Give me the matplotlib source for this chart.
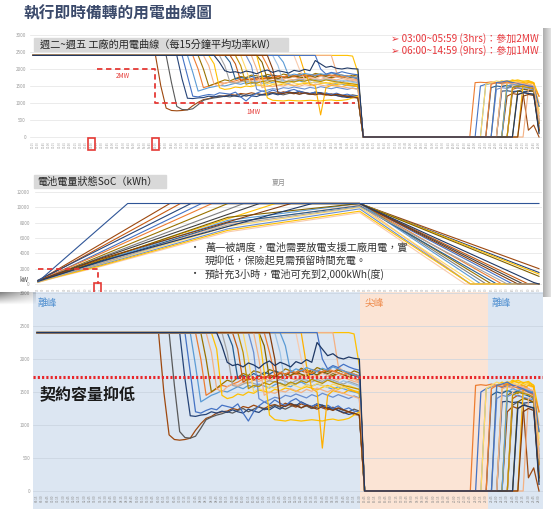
import numpy as np
import matplotlib
matplotlib.use('Agg')
import matplotlib.pyplot as plt
import matplotlib.transforms as mtransforms
from matplotlib.patches import Rectangle

plt.rcParams['font.family'] = ['Noto Sans CJK TC', 'DejaVu Sans']

# ---- data (15-min slots, 96 per day) ----
time_labels = ['%02d:%02d' % divmod(15 * (i + 1), 60) for i in range(96)]
full_load = 2400

load_colors = ['#FFC000', '#9E480E', '#595959', '#264478', '#4472C4', '#5B9BD5',
               '#ED7D31', '#997300', '#F4B183', '#FFC000', '#A5A5A5', '#255E91',
               '#C55A11', '#FFD966', '#698ED0', '#7F6000', '#FFC000', '#9DC3E6',
               '#F8CBAD', '#FFB000', '#F4B183', '#ED7D31', '#5B9BD5', '#BF9000',
               '#4472C4', '#F4B183', '#843C0C', '#1F3864']
# slot where each factory curve leaves full load
load_drop = [60, 24, 26, 28, 29, 30, 31, 32, 33, 34, 36, 37, 38, 40, 41, 43, 43, 46, 50, 51, 57,
             44, 47, 39, 54, 42, 45, 35]
# kW after the drop, until the peak cut-off
load_day = [
    [2380, 1900],
    [1500, 850, 780, 770, 780, 800, 920, 1020, 1100, 1130, 1180, 1200, 1210, 1250, 1230, 1280,
     1260, 1300, 1270, 1250, 1290, 1310, 1280, 1330, 1300, 1270, 1320, 1290, 1250, 1300, 1260,
     1230, 1270, 1220, 1180, 1200, 1160, 1150],
    [1600, 900, 810, 800, 830, 950, 1080, 1120, 1150, 1170, 1200, 1180, 1220, 1250, 1200, 1240,
     1280, 1230, 1260, 1300, 1270, 1240, 1280, 1310, 1260, 1290, 1250, 1270, 1300, 1260, 1230,
     1250, 1220, 1200, 1240, 1210],
    [1700, 1140, 1130, 1150, 1160, 1200, 1180, 1210, 1190, 1230, 1200, 1180, 1240, 1210, 1190,
     1250, 1230, 1280, 1240, 1300, 1330, 1290, 1350, 1310, 1280, 1320, 1300, 1270, 1250, 1220,
     1190, 1160, 1180, 1150],
    [1800, 1200, 1180, 1220, 1250, 1230, 1300, 1280, 1260, 1320, 1180, 1060, 1200, 1290, 1350,
     1310, 1380, 1330, 1290, 1360, 1400, 1340, 1300, 1280, 1320, 1260, 1300, 1250, 1290, 1230,
     1260, 1210, 1200],
    [1900, 1350, 1400, 1450, 1480, 1520, 1500, 1540, 1580, 1550, 1600, 1570, 1620, 1590, 1560,
     1610, 1640, 1600, 1580, 1630, 1650, 1610, 1590, 1620, 1600, 1570, 1540, 1580, 1550, 1520,
     1500, 1480],
    [2000, 1450, 1500, 1550, 1600, 1580, 1620, 1650, 1700, 1680, 1720, 1690, 1740, 1710, 1760,
     1730, 1700, 1750, 1780, 1740, 1770, 1720, 1750, 1790, 1760, 1730, 1780, 1750, 1720, 1700, 1680],
    [2000, 1500, 1560, 1620, 1680, 1650, 1720, 1780, 1750, 1820, 1800, 1760, 1840, 1810, 1780,
     1850, 1820, 1790, 1860, 1830, 1800, 1870, 1840, 1810, 1780, 1830, 1800, 1770, 1820, 1790],
    [2100, 1550, 1500, 1580, 1620, 1600, 1650, 1630, 1680, 1660, 1700, 1670, 1720, 1690, 1740,
     1710, 1680, 1730, 1700, 1750, 1720, 1690, 1740, 1710, 1680, 1720, 1690, 1660, 1640],
    [2150, 1450, 1400, 1420, 1470, 1450, 1500, 1480, 1530, 1510, 1490, 1540, 1520, 1560, 1540,
     1510, 1550, 1580, 1560, 1530, 1570, 1600, 1570, 1540, 1580, 1550, 1520, 1500],
    [2100, 1600, 1580, 1620, 1650, 1630, 1600, 1640, 1670, 1650, 1690, 1660, 1630, 1670, 1700,
     1680, 1650, 1690, 1660, 1700, 1680, 1650, 1620, 1660, 1630, 1600],
    [2200, 1700, 1750, 1720, 1780, 1740, 1800, 1770, 1820, 1790, 1750, 1810, 1780, 1830, 1800,
     1760, 1820, 1790, 1750, 1800, 1770, 1740, 1780, 1750, 1720],
    [2150, 1650, 1700, 1680, 1740, 1710, 1760, 1730, 1780, 1750, 1800, 1770, 1820, 1790, 1840,
     1810, 1780, 1830, 1800, 1850, 1820, 1790, 1760, 1730],
    [2000, 1500, 1550, 1520, 1580, 1560, 1600, 1580, 1620, 1590, 1560, 1610, 1580, 1630, 1600,
     1570, 1620, 1590, 1560, 1600, 1570, 1540],
    [2100, 1400, 1350, 1380, 1420, 1400, 1450, 1430, 1470, 1440, 1410, 1460, 1430, 1480, 1450,
     1420, 1460, 1430, 1400, 1440, 1410],
    [2200, 1700, 1750, 1720, 1780, 1750, 1800, 1770, 1740, 1790, 1760, 1810, 1780, 1750, 1790,
     1760, 1730, 1770, 1740],
    [1800, 1150, 1080, 1070, 1060, 1080, 1070, 1060, 1070, 1080, 1070, 1060, 1080, 1090, 1070,
     1080, 1100, 1150, 1200],
    [2100, 1600, 1650, 1620, 1680, 1650, 1700, 1670, 1640, 1690, 1660, 1630, 1670, 1640, 1610, 1580],
    [2000, 1700, 1750, 1720, 1780, 1750, 1800, 1770, 1740, 1710, 1690, 1660],
    [1900, 1550, 1500, 650, 1450, 1520, 1500, 1480, 1530, 1510, 1480],
    [1900, 1800, 1750, 1700, 1650],
    [2100, 1750, 1800, 1770, 1820, 1790, 1840, 1810, 1780, 1830, 1800, 1850, 1820, 1790, 1760,
     1800, 1770, 1740],
    [2200, 1800, 1850, 1820, 1870, 1840, 1810, 1860, 1830, 1880, 1850, 1820, 1790, 1760, 1730],
    [2100, 1550, 1600, 1580, 1640, 1610, 1660, 1630, 1600, 1650, 1620, 1670, 1640, 1690, 1660,
     1630, 1680, 1650, 1620, 1600, 1580, 1560, 1540],
    [2000, 1850, 1900, 1870, 1920, 1880, 1850, 1830],
    [2000, 1450, 1500, 1480, 1520, 1500, 1550, 1520, 1490, 1540, 1510, 1560, 1530, 1500, 1540,
     1510, 1480, 1450, 1430, 1400],
    [2000, 1300, 1280, 1320, 1290, 1260, 1300, 1270, 1240, 1280, 1250, 1220, 1260, 1230, 1200,
     1180, 1150],
    [2200, 1950, 1900, 1920, 1880, 1940, 1910, 1860, 1930, 1970, 1900, 1950, 1920, 1880, 1960,
     1930, 1990, 1950, 2250, 2150, 2050, 2080, 2020, 2000, 2030, 2010, 2000],
]
# kW in the evening off-peak, up to the last slot
load_eve = [
    [1550, 1620, 1660, 1650, 1630, 1640, 1600, 1200],
    [1200, 1280, 1250, 1300, 200, 350, 0],
    [1300, 1350, 1320, 1280, 1250, 400],
    [1350, 1360, 1340, 1350, 1330, 1340, 1350, 200],
    [1500, 1550, 1580, 1600, 1570, 1590, 1560, 1580, 1540, 1500, 1450, 600],
    [1550, 1580, 1600, 1620, 1590, 1610, 1580, 1560, 1520, 1480, 900],
    [1600, 1610, 1600, 1620, 1600, 1610, 1630, 1600, 1580, 1600, 1550, 1500, 1200],
    [1450, 1500, 1480, 1520, 1490, 1460, 500],
    [1600, 1580, 1620, 1650, 1630, 1600, 1580, 1550, 1500, 1000],
    [1600, 1650, 1620, 1680, 1640, 1600, 1620, 1580, 700],
    [1500, 1520, 1480, 1530, 1500, 1470, 1450, 400],
    [1450, 1500, 1480, 1520, 1490, 1510, 1470, 1440, 1400, 300],
    [1400, 1450, 1420, 1380, 1350, 250],
    [1550, 1600, 1650, 1620, 1660, 1640, 1610, 1650, 1600, 1560, 800],
    [1400, 1450, 1430, 1470, 1440, 1420, 1400, 1380, 500],
    [1350, 1400, 1380, 1340, 150],
    [1600, 1650, 1680, 1640, 1660, 1600, 900],
    [1450, 1480, 1430, 300],
    [1500, 1550, 1520, 1480, 1450, 600],
    [1550, 1600, 1580, 400],
    [1400, 1450, 250],
    [1550, 1600, 1580, 1620, 1590, 1560, 1530, 1500, 1450, 400],
    [1500, 1550, 1520, 1560, 1530, 1500, 300],
    [1450, 1500, 1480, 1460, 1420, 200],
    [1600, 1620, 1650, 1600, 1580, 1550, 1500, 1480, 900],
    [1550, 1580, 1560, 1600, 1570, 1540, 1520, 500],
    [1200, 1250, 1220, 200],
    [1250, 1300, 1280, 1260, 100],
]

# battery state of charge (kWh), breakpoints of each curve
soc_colors = ['#9E480E', '#C55A11', '#264478', '#4472C4', '#ED7D31', '#997300', '#7F7F7F',
              '#404040', '#FFC000', '#5B9BD5', '#F4B183', '#255E91', '#FFD966', '#698ED0',
              '#F8CBAD', '#FFC000', '#7F6000', '#843C0C', '#A5A5A5', '#1F3864', '#2F5597']
soc_x = [[0, 25, 61, 95], [0, 27, 61, 93, 95], [0, 29, 61, 95], [0, 12, 31, 61, 90, 95],
         [0, 12, 33, 61, 88, 95], [0, 12, 36, 61, 86, 95], [0, 12, 39, 61, 85, 95],
         [0, 12, 42, 61, 92, 95], [0, 12, 45, 61, 95], [0, 12, 36, 61, 84, 95],
         [0, 12, 36, 61, 82, 95], [0, 12, 36, 61, 87, 95], [0, 12, 36, 61, 83, 95],
         [0, 12, 36, 61, 82, 95], [0, 12, 36, 61, 81, 95], [0, 12, 36, 61, 82, 95],
         [0, 12, 36, 61, 95], [0, 12, 48, 61, 91, 95], [0, 12, 36, 61, 89, 95],
         [0, 12, 52, 61, 94, 95], [0, 17, 95]]
soc_y = [[400, 10500, 10500, 2000], [350, 10500, 10500, 0, 0], [500, 10500, 10500, 1500],
         [300, 4200, 10500, 10500, 0, 0], [400, 4000, 10500, 10500, 0, 0],
         [300, 3700, 10500, 10500, 0, 0], [350, 3500, 10500, 10500, 0, 0],
         [450, 3400, 10500, 10500, 0, 0], [300, 3200, 10500, 10500, 1300],
         [250, 3000, 8300, 10500, 0, 0], [300, 2800, 7900, 10300, 0, 0],
         [400, 2900, 8000, 10200, 0, 0], [200, 2600, 7500, 10000, 0, 0],
         [300, 2500, 7200, 9800, 0, 0], [250, 2300, 6800, 9300, 0, 0],
         [300, 2400, 7000, 9500, 0, 0], [350, 3100, 8700, 10500, 1000],
         [400, 3300, 10500, 10500, 0, 0], [300, 2700, 7700, 10100, 0, 0],
         [350, 3000, 10500, 10500, 200, 0], [300, 10500, 10500]]

load_ticks = [0, 500, 1000, 1500, 2000, 2500, 3000]
soc_ticks = [0, 2000, 4000, 6000, 8000, 10000, 12000]
contract_cut = 1730
bid_x = [12, 23, 23, 60.4]
bid_y = [2000, 2000, 1000, 1000]
peak_start, peak_end = 61.1, 85.4

# ---- layout helpers (pixel boxes) ----
W, H = 551, 509
fig = plt.figure(figsize=(W / 100, H / 100), dpi=100)


def box(l, t, r, b):
    return [l / W, 1 - b / H, (r - l) / W, (b - t) / H]


def ftext(x, y, s, **kw):
    fig.text(x / W, 1 - y / H, s, **kw)


slots = np.arange(96)
loads = []
for d, day, eve in zip(load_drop, load_day, load_eve):
    gap = 96 - d - len(day) - len(eve)
    loads.append([full_load] * d + day + [0] * gap + eve)


def style(ax, ticks, grid_color, pad):
    for s in ax.spines.values():
        s.set_visible(False)
    ax.set_yticks(ticks)
    ax.set_yticklabels(ticks, fontsize=3.3, color='#9a9a9a')
    ax.grid(axis='y', color=grid_color, lw=0.5)
    ax.set_axisbelow(True)
    ax.tick_params(length=0, pad=pad)
    ax.tick_params(axis='x', pad=0.6)


# right-hand card shadow
sr = fig.add_axes(box(543, 28, 551, 297))
ramp = np.zeros((1, 16, 4))
ramp[..., 3] = np.linspace(0.32, 0.12, 16)
sr.imshow(ramp, aspect='auto', extent=(0, 1, 0, 1))
sr.axis('off')

# ---- top: factory load ----
ax1 = fig.add_axes(box(30.3, 30, 541.7, 140))
for y, c in zip(loads, load_colors):
    ax1.plot(slots, y, color=c, lw=0.8)
ax1.set_xlim(-0.5, 95.5)
ax1.set_ylim(-88, 3147)
style(ax1, load_ticks, '#e3e3e3', 3)
ax1.set_xticks(slots)
ax1.set_xticklabels(time_labels, rotation=90, fontsize=2.0, color='#a0a0a0')
ax1.plot(bid_x, bid_y, color='#e53935', lw=1.3, ls=(0, (3, 2)))
tr1 = mtransforms.blended_transform_factory(ax1.transData, ax1.transAxes)
for xi in [11, 23]:
    ax1.add_patch(Rectangle((xi - 0.6, -0.09), 1.2, 0.11, transform=tr1, fill=False,
                            ec='#e53935', lw=1.2, clip_on=False))

# ---- middle: battery SoC ----
ax2 = fig.add_axes(box(35.4, 188, 541.6, 287))
for xs, ys, c in zip(soc_x, soc_y, soc_colors):
    ax2.plot(xs, ys, color=c, lw=0.8)
ax2.set_xlim(-0.5, 95.5)
ax2.set_ylim(-391, 12522)
style(ax2, soc_ticks, '#e3e3e3', 4)
ax2.set_xticks(slots)
ax2.set_xticklabels(time_labels, rotation=90, fontsize=1.8, color='#a0a0a0')
ax2.plot([0, 11.3, 11.3], [2000, 2000, 0], color='#e53935', lw=1.3, ls=(0, (3, 2)))
tr2 = mtransforms.blended_transform_factory(ax2.transData, ax2.transAxes)
ax2.add_patch(Rectangle((10.65, -0.06), 1.3, 0.1, transform=tr2, fill=False,
                        ec='#e53935', lw=1.2, clip_on=False))

# ---- bottom: zoomed load with TOU periods ----
ax3 = fig.add_axes(box(33, 292, 543, 509))
ax3.set_xlim(-0.757, 95.757)
ax3.set_ylim(-273, 3015)
ax3.axvspan(-0.757, peak_start, color='#dce6f2', lw=0, zorder=0)
ax3.axvspan(peak_start, peak_end, color='#fbe4d5', lw=0, zorder=0)
ax3.axvspan(peak_end, 95.757, color='#dce6f2', lw=0, zorder=0)
for y, c in zip(loads, load_colors):
    ax3.plot(slots, y, color=c, lw=0.9, zorder=2)
style(ax3, load_ticks, '#c9d3df', 2)
ax3.grid(axis='y', color='#c9d3df', lw=0.5, zorder=1)
ax3.set_xticks([])
for i, lab in enumerate(time_labels):
    ax3.text(i, -50, lab, rotation=90, ha='center', va='top', fontsize=2.2, color='#8a8a8a')
ax3.axhline(contract_cut, color='#e8262a', lw=2.2, ls=(0, (0.7, 0.7)), zorder=3)

# shadow under the middle card, left margin
sh = fig.add_axes(box(0, 292, 36, 305))
grad = np.linspace(1, 0, 20).reshape(-1, 1) * np.linspace(1, 0.3, 40).reshape(1, -1)
rgba = np.zeros((20, 40, 4))
rgba[..., 3] = 0.5 * grad
sh.imshow(rgba, aspect='auto', extent=(0, 1, 0, 1))
sh.axis('off')

# ---- texts ----
ftext(23, 13.5, '執行即時備轉的用電曲線圖', fontsize=11.3, fontweight='bold', color='#3b4a6b',
      va='center')

fig.patches.append(Rectangle((34 / W, 1 - 51 / H), 254 / W, 13 / H, transform=fig.transFigure,
                             color='#d9d9d9', zorder=5))
ftext(40, 44.5, '週二~週五 工廠的用電曲線（每15分鐘平均功率kW）', fontsize=7.3, color='#262626',
      va='center', zorder=6)
ftext(391, 38.5, '➢ 03:00~05:59 (3hrs)：參加2MW', fontsize=7.2, color='#e8383d', va='center')
ftext(391, 51, '➢ 06:00~14:59 (9hrs)：參加1MW', fontsize=7.2, color='#e8383d', va='center')
ftext(116, 76, '2MW', fontsize=4.5, color='#e53935', va='center')
ftext(246, 112, '1MW', fontsize=4.5, color='#e53935', va='center')

fig.patches.append(Rectangle((34 / W, 1 - 188 / H), 132 / W, 13 / H, transform=fig.transFigure,
                             color='#d9d9d9', zorder=5))
ftext(37, 181.5, '電池電量狀態SoC（kWh）', fontsize=7.3, color='#262626', va='center', zorder=6)
ftext(272, 183, '夏月', fontsize=5, color='#8c8c8c', va='center')
ftext(19, 280, 'kW', fontsize=4.5, color='#444444', va='center')

ftext(190, 248, '•', fontsize=7.3, color='#333333', va='center')
ftext(205, 248, '萬一被調度，電池需要放電支援工廠用電，實', fontsize=7.3, color='#333333', va='center')
ftext(205, 261, '現抑低，保險起見需預留時間充電。', fontsize=7.3, color='#333333', va='center')
ftext(190, 274, '•', fontsize=7.3, color='#333333', va='center')
ftext(205, 274, '預計充3小時，電池可充到2,000kWh(度)', fontsize=7.3, color='#333333', va='center')

ftext(38, 303, '離峰', fontsize=7, color='#4f8fd0', va='center')
ftext(365, 303, '尖峰', fontsize=7, color='#ef8a4a', va='center')
ftext(492, 303, '離峰', fontsize=7, color='#4f8fd0', va='center')
ftext(40, 394, '契約容量抑低', fontsize=11.5, fontweight='bold', color='#1a1a1a', va='center')

fig.savefig('out.png', dpi=100)
